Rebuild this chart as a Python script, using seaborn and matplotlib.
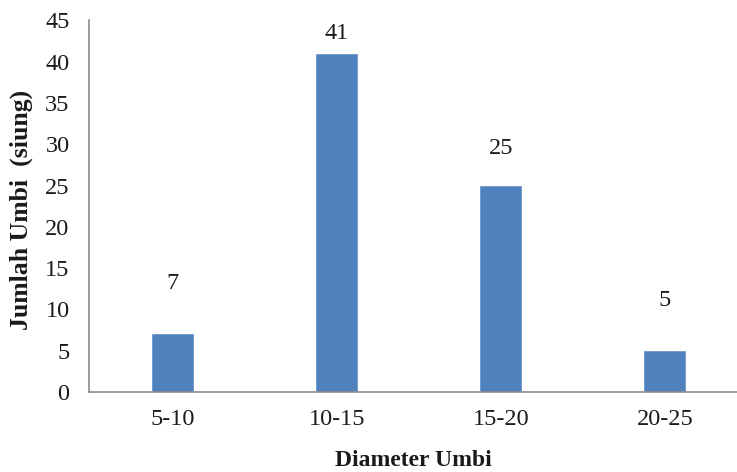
import matplotlib
matplotlib.use("Agg")
import matplotlib.pyplot as plt
import seaborn as sns
import pandas as pd

categories = ["5-10", "10-15", "15-20", "20-25"]
values = [7, 41, 25, 5]
yticks = [0, 5, 10, 15, 20, 25, 30, 35, 40, 45]

# label vertical offsets (styling, data units)
label_offsets = [6.2, 2.4, 4.5, 6.1]

sns.set_style("white")
plt.rcParams['font.family'] = ['Liberation Serif', 'DejaVu Serif']

FS = 17.5

df = pd.DataFrame({"Diameter": categories, "Jumlah": values})

fig = plt.figure(figsize=(7.37, 4.72), dpi=100)
ax = fig.add_axes([89/737, 80/472, 658/737, 371.5/472])

sns.barplot(data=df, x="Diameter", y="Jumlah", color="#4F81BD", saturation=1,
            width=0.25, ax=ax, edgecolor="#6F98CC", linewidth=0.6)

ax.set_xlim(-0.51, 3.5)
ax.set_ylim(0, 45)
ax.set_yticks(yticks)
ax.set_yticklabels([str(t) for t in yticks])

for i, (v, off) in enumerate(zip(values, label_offsets)):
    ax.text(i, v + off, str(v), ha="center", va="center", fontsize=FS, color="#1a1a1a")

for s in ["top", "right"]:
    ax.spines[s].set_visible(False)
for s in ["left", "bottom"]:
    ax.spines[s].set_color("#8c8c8c")
    ax.spines[s].set_linewidth(1.2)

ax.tick_params(axis="y", length=5, width=1.2, color="#8c8c8c", pad=9, labelsize=FS, labelcolor="#1a1a1a")
ax.tick_params(axis="x", length=0, pad=12, labelsize=FS, labelcolor="#1a1a1a")

ax.set_xlabel("Diameter Umbi", fontsize=17, fontweight="bold", color="#1a1a1a")
ax.set_ylabel("Jumlah Umbi  (siung)", fontsize=18.5, fontweight="bold", color="#1a1a1a")
ax.xaxis.set_label_coords(0.493, -0.155)
ax.yaxis.set_label_coords(-0.085, 0.49)

fig.savefig("out.png", dpi=100)
